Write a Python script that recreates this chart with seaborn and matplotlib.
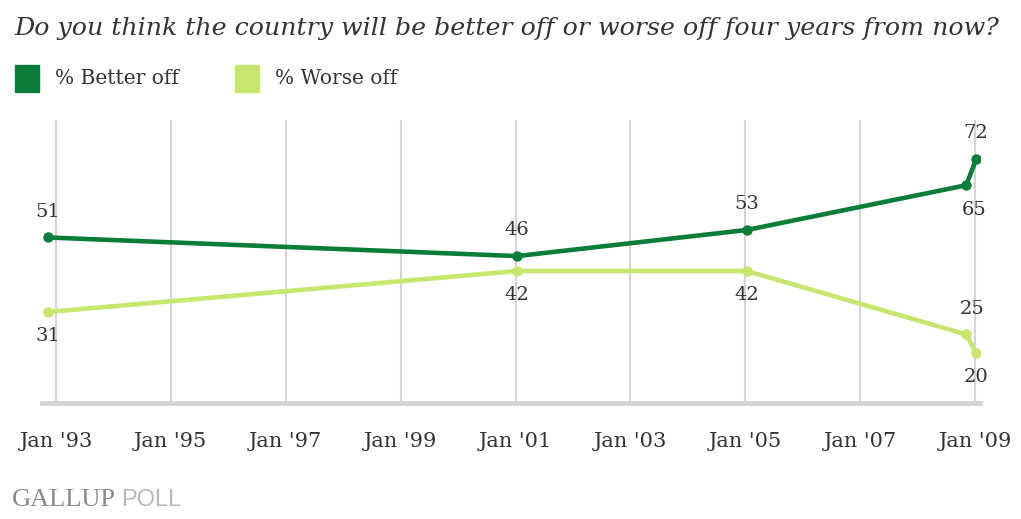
import matplotlib
matplotlib.use("Agg")
import matplotlib.pyplot as plt
import seaborn as sns
import pandas as pd
from matplotlib.patches import Rectangle

# Data
dates = ["1992-11-08", "2001-01-10", "2005-01-10", "2008-11-05", "2009-01-08"]
better_off = [51, 46, 53, 65, 72]
worse_off = [31, 42, 42, 25, 20]
tick_years = [1993, 1995, 1997, 1999, 2001, 2003, 2005, 2007, 2009]
tick_labels = ["Jan '93", "Jan '95", "Jan '97", "Jan '99", "Jan '01", "Jan '03", "Jan '05", "Jan '07", "Jan '09"]
series_names = ["% Better off", "% Worse off"]

dark = "#0b7d3a"
light = "#c6e66e"
text_col = "#333333"

df = pd.DataFrame({
    "date": pd.to_datetime(dates * 2),
    "value": better_off + worse_off,
    "series": [series_names[0]] * len(dates) + [series_names[1]] * len(dates),
})

sns.set_theme(style="white")
plt.rcParams["font.family"] = ["DejaVu Serif"]

fig = plt.figure(figsize=(10.21, 5.19), dpi=100)
ax = fig.add_axes([42 / 1021, 1 - 403 / 519, (980 - 42) / 1021, (403 - 120) / 519])

# gridlines
for y in tick_years:
    ax.axvline(pd.Timestamp(f"{y}-01-01"), color="#d4d4d4", lw=1.5, zorder=0)

sns.lineplot(data=df, x="date", y="value", hue="series",
             palette={series_names[0]: dark, series_names[1]: light},
             marker="o", markersize=7.5, markeredgewidth=0, linewidth=3.3,
             legend=False, ax=ax, zorder=3)

ax.set_xlim(pd.Timestamp("1992-10-04"), pd.Timestamp("2009-02-01"))
ax.set_ylim(6.6, 82.5)
ax.set_xticks([pd.Timestamp(f"{y}-01-01") for y in tick_years])
ax.set_xticklabels(tick_labels, fontsize=15, color=text_col)
ax.tick_params(axis="x", length=0, pad=21)
ax.set_yticks([])
ax.set_xlabel("")
ax.set_ylabel("")
for s in ["top", "left", "right"]:
    ax.spines[s].set_visible(False)
ax.spines["bottom"].set_color("#d4d4d4")
ax.spines["bottom"].set_linewidth(3.5)

# data labels
d = pd.to_datetime(dates)
lab_kw = dict(fontsize=14, color=text_col, ha="center", zorder=5)
offsets_b = [(0, 12), (0, 12), (0, 12), (6, -24), (0, 12)]
offsets_w = [(0, -24), (0, -24), (0, -24), (4, 12), (0, -24)]
for xi, v, (dx, dy) in zip(d, better_off, offsets_b):
    ax.annotate(str(v), (xi, v), xytext=(dx, dy), textcoords="offset points",
                va="bottom", **lab_kw)
for xi, v, (dx, dy) in zip(d, worse_off, offsets_w):
    ax.annotate(str(v), (xi, v), xytext=(dx, dy), textcoords="offset points",
                va="bottom", **lab_kw)

# title
fig.text(14 / 1021, 1 - 28 / 519, "Do you think the country will be better off or worse off four years from now?",
         fontsize=18.2, style="italic", color=text_col, va="center", ha="left")

# legend
for x0, col, name in [(15, dark, series_names[0]), (235, light, series_names[1])]:
    fig.patches.append(Rectangle((x0 / 1021, 1 - 92 / 519), 24 / 1021, 27 / 519,
                                 transform=fig.transFigure, color=col, figure=fig))
    fig.text((x0 + 40) / 1021, 1 - 78 / 519, name, fontsize=14.5, color=text_col,
             va="center", ha="left")

fig.text(12 / 1021, 1 - 500 / 519, "GALLUP", fontsize=19, color="#8a8a8a",
         va="center", ha="left", family="Liberation Serif")
fig.text(121 / 1021, 1 - 500 / 519, "POLL", fontsize=17, color="#b8b8b8",
         va="center", ha="left", family="Liberation Sans")

fig.savefig("out.png", dpi=100)
